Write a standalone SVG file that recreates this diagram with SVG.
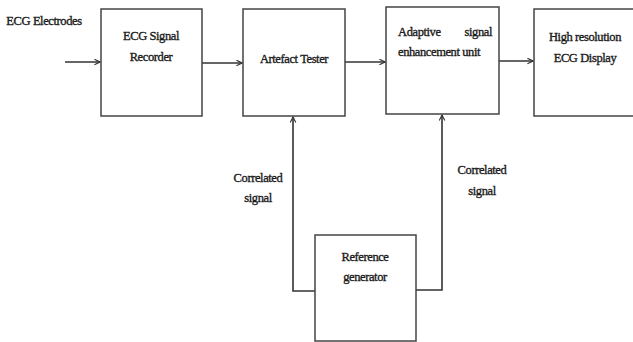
<svg xmlns="http://www.w3.org/2000/svg" width="633" height="342" viewBox="0 0 633 342">
<defs>
<style>
.box{fill:#fff;stroke:#444;stroke-width:1.5}
.c{fill:none;stroke:#333;stroke-width:1.6}
text{font-family:"Liberation Serif","Times New Roman",serif;font-size:12.5px;fill:#1a1a1a;stroke:#1a1a1a;stroke-width:0.35;text-anchor:middle;letter-spacing:-0.4px}
</style>
<marker id="ah" viewBox="0 0 10 10" refX="9" refY="5" markerWidth="7" markerHeight="7" orient="auto" markerUnits="userSpaceOnUse">
<path d="M1,1 L9,5 L1,9" fill="none" stroke="#333" stroke-width="1.6"/>
</marker>
</defs>
<rect width="633" height="342" fill="#fff"/>
<g id="connectors">
<line class="c" x1="65" y1="62" x2="100" y2="62" marker-end="url(#ah)"/>
<line class="c" x1="202" y1="63" x2="242" y2="63" marker-end="url(#ah)"/>
<line class="c" x1="345" y1="62" x2="385" y2="62" marker-end="url(#ah)"/>
<line class="c" x1="499" y1="61" x2="533" y2="61" marker-end="url(#ah)"/>
<polyline class="c" points="315,291 293,291 293,117" marker-end="url(#ah)"/>
<polyline class="c" points="416,290 442,290 442,115" marker-end="url(#ah)"/>
</g>
<text x="44" y="25">ECG Electrodes</text>
<g id="recorder">
<rect class="box" x="101" y="9" width="101" height="107"/>
<text x="151" y="40">ECG Signal</text>
<text x="151" y="61">Recorder</text>
</g>
<g id="artefact">
<rect class="box" x="243" y="9" width="102" height="107"/>
<text x="294" y="63">Artefact  Tester</text>
</g>
<g id="adaptive">
<rect class="box" x="386" y="7" width="113" height="107"/>
<text x="398" y="36" style="text-anchor:start">Adaptive</text>
<text x="492" y="36" style="text-anchor:end">signal</text>
<text x="398" y="56" style="text-anchor:start">enhancement  unit</text>
</g>
<g id="display">
<rect class="box" x="534" y="9" width="110" height="107"/>
<text x="585" y="41">High  resolution</text>
<text x="585" y="62">ECG Display</text>
</g>
<g id="reference">
<rect class="box" x="315" y="235" width="101" height="106"/>
<text x="365" y="261">Reference</text>
<text x="365" y="281">generator</text>
</g>
<text x="258" y="182">Correlated</text>
<text x="258" y="202">signal</text>
<text x="482" y="174">Correlated</text>
<text x="482" y="195">signal</text>
</svg>
